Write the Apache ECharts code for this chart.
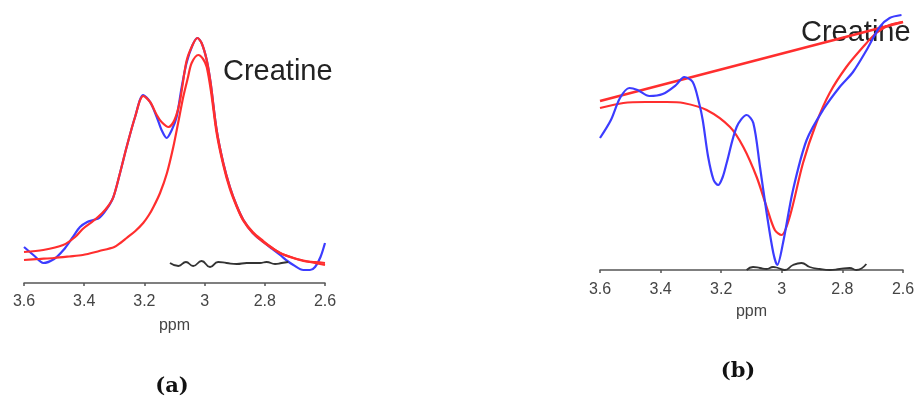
<!DOCTYPE html>
<html>
<head>
<meta charset="utf-8">
<script src="https://cdn.jsdelivr.net/npm/echarts@6/dist/echarts.min.js"></script>
<style>
  html, body { margin: 0; padding: 0; background: #ffffff; }
  #chart { width: 919px; height: 401px; }
</style>
</head>
<body>
<div id="chart"></div>
<script>
// Chemical shift ticks (ppm), shared by both spectra
const ppmTicks = [3.6, 3.4, 3.2, 3.0, 2.8, 2.6];

// (a) measured spectrum, [ppm, intensity a.u.]
const specA = [
  [3.600, 0.36], [3.565, 0.27], [3.536, 0.20], [3.500, 0.24], [3.469, 0.33],
  [3.440, 0.45], [3.414, 0.56], [3.390, 0.61], [3.370, 0.63], [3.350, 0.65],
  [3.325, 0.74], [3.303, 0.86], [3.281, 1.10], [3.259, 1.36], [3.231, 1.66],
  [3.204, 1.88], [3.181, 1.81], [3.159, 1.66], [3.143, 1.53], [3.126, 1.45],
  [3.109, 1.53], [3.093, 1.66], [3.076, 1.96], [3.060, 2.20], [3.040, 2.38],
  [3.024, 2.45], [3.010, 2.40], [2.993, 2.23], [2.980, 2.00], [2.960, 1.53],
  [2.938, 1.20], [2.916, 0.96], [2.893, 0.77], [2.871, 0.63], [2.840, 0.50],
  [2.805, 0.41], [2.775, 0.34], [2.749, 0.28], [2.725, 0.22], [2.705, 0.18],
  [2.672, 0.13], [2.650, 0.13], [2.633, 0.16], [2.615, 0.26], [2.600, 0.40]
];
// (a) total fit
const fitA = [
  [3.600, 0.31], [3.536, 0.33], [3.470, 0.38], [3.430, 0.46], [3.405, 0.54],
  [3.370, 0.62], [3.340, 0.70], [3.320, 0.77], [3.303, 0.86], [3.281, 1.10],
  [3.259, 1.36], [3.231, 1.66], [3.204, 1.87], [3.181, 1.81], [3.159, 1.68],
  [3.143, 1.61], [3.120, 1.56], [3.100, 1.63], [3.082, 1.82], [3.060, 2.22],
  [3.040, 2.38], [3.024, 2.45], [3.010, 2.40], [2.993, 2.23], [2.980, 2.00],
  [2.960, 1.53], [2.938, 1.20], [2.916, 0.96], [2.893, 0.77], [2.871, 0.63],
  [2.840, 0.51], [2.805, 0.42], [2.775, 0.35], [2.749, 0.30], [2.705, 0.25],
  [2.672, 0.22], [2.633, 0.21], [2.600, 0.20]
];
// (a) creatine component
const creA = [
  [3.600, 0.23], [3.550, 0.24], [3.500, 0.25], [3.450, 0.265], [3.405, 0.28],
  [3.350, 0.32], [3.300, 0.36], [3.280, 0.40], [3.259, 0.45], [3.230, 0.52],
  [3.204, 0.60], [3.185, 0.68], [3.170, 0.76], [3.148, 0.90], [3.125, 1.10],
  [3.104, 1.36], [3.088, 1.60], [3.071, 1.86], [3.055, 2.06], [3.043, 2.20],
  [3.021, 2.28], [3.005, 2.24], [2.993, 2.16], [2.978, 1.90], [2.960, 1.50],
  [2.938, 1.18], [2.916, 0.94], [2.893, 0.76], [2.871, 0.62], [2.840, 0.50],
  [2.805, 0.41], [2.749, 0.30], [2.705, 0.25], [2.650, 0.21], [2.600, 0.18]
];
// (a) residual
const resA = [
  [3.115, 0.20], [3.087, 0.17], [3.062, 0.21], [3.038, 0.17], [3.010, 0.22],
  [2.982, 0.16], [2.955, 0.21], [2.927, 0.20], [2.893, 0.19], [2.860, 0.20],
  [2.816, 0.20], [2.794, 0.21], [2.766, 0.19], [2.744, 0.20], [2.722, 0.21]
];

// (b) measured spectrum
const specB = [
  [3.600, 1.32], [3.564, 1.50], [3.534, 1.72], [3.503, 1.82], [3.476, 1.80],
  [3.437, 1.74], [3.393, 1.76], [3.349, 1.85], [3.322, 1.93], [3.294, 1.88],
  [3.273, 1.67], [3.261, 1.50], [3.243, 1.13], [3.225, 0.90], [3.210, 0.85],
  [3.195, 0.93], [3.182, 1.07], [3.149, 1.43], [3.116, 1.55], [3.094, 1.47],
  [3.072, 1.03], [3.050, 0.57], [3.028, 0.17], [3.015, 0.05], [2.996, 0.27],
  [2.963, 0.80], [2.918, 1.30], [2.864, 1.60], [2.809, 1.83], [2.765, 1.98],
  [2.720, 2.20], [2.677, 2.43], [2.644, 2.52], [2.605, 2.55]
];
// (b) fitted baseline
const baseB = [[3.600, 1.69], [2.600, 2.48]];
// (b) creatine fit
const creB = [
  [3.600, 1.62], [3.523, 1.67], [3.450, 1.68], [3.380, 1.68], [3.325, 1.67],
  [3.248, 1.60], [3.171, 1.43], [3.127, 1.23], [3.083, 0.93], [3.050, 0.63],
  [3.023, 0.40], [3.001, 0.35], [2.974, 0.53], [2.930, 1.07], [2.886, 1.47],
  [2.842, 1.77], [2.787, 2.03], [2.732, 2.23], [2.688, 2.37], [2.644, 2.45],
  [2.600, 2.48]
];
// (b) residual
const resB = [
  [3.116, 0.00], [3.095, 0.03], [3.072, 0.02], [3.050, 0.01], [3.029, 0.03],
  [3.012, 0.02], [2.990, 0.00], [2.963, 0.05], [2.935, 0.07], [2.908, 0.03],
  [2.875, 0.01], [2.842, 0.00], [2.809, 0.01], [2.776, 0.02], [2.754, 0.00],
  [2.721, 0.06]
];

const BLUE = '#3c3cff';
const RED = '#ff2e2e';
const DARK = '#333333';
const AXIS = '#555555';
const SANS = '"Liberation Sans", Arial, sans-serif';
const SERIF = '"DejaVu Serif", serif';

function ppmAxis(gridIndex, margin, nameGap) {
  return {
    gridIndex,
    type: 'value',
    inverse: true,
    min: ppmTicks[ppmTicks.length - 1],
    max: ppmTicks[0],
    interval: 0.2,
    name: 'ppm',
    nameLocation: 'middle',
    nameGap,
    nameTextStyle: { fontFamily: SANS, fontSize: 16, color: '#444' },
    axisLine: { show: true, onZero: false, lineStyle: { color: AXIS, width: 1.5 } },
    axisTick: { show: true, length: 3, lineStyle: { color: AXIS, width: 1.5 } },
    axisLabel: {
      margin,
      fontFamily: SANS, fontSize: 16, color: '#444',
      formatter: v => String(Number(v.toFixed(1)))
    },
    splitLine: { show: false }
  };
}

function curve(name, data, color, width, xi, extra) {
  return Object.assign({
    name, type: 'line', data,
    xAxisIndex: xi, yAxisIndex: xi,
    smooth: 0.3,
    showSymbol: false, symbol: 'none',
    lineStyle: { color, width }, silent: true, animation: false
  }, extra || {});
}

const chart = echarts.init(document.getElementById('chart'), null, { renderer: 'canvas' });
chart.setOption({
  backgroundColor: '#ffffff',
  animation: false,
  grid: [
    { left: 24, right: 594, top: 20, bottom: 118 },
    { left: 600, right: 16, top: 10, bottom: 131 }
  ],
  xAxis: [ppmAxis(0, 11, 35), ppmAxis(1, 12, 34)],
  yAxis: [
    { gridIndex: 0, type: 'value', min: 0, max: 2.63, show: false },
    { gridIndex: 1, type: 'value', min: 0, max: 2.6, show: false }
  ],
  graphic: [
    { type: 'text', x: 223, y: 57, z: 0,
      style: { text: 'Creatine', fontFamily: SANS, fontSize: 29, fill: '#222' } },
    { type: 'text', x: 801, y: 18, z: 0,
      style: { text: 'Creatine', fontFamily: SANS, fontSize: 29, fill: '#222' } },
    { type: 'text', x: 172, y: 376, z: 0,
      style: { text: '(a)', fontFamily: SERIF, fontWeight: 'bold', fontSize: 21, fill: '#111', align: 'center' } },
    { type: 'text', x: 738, y: 361, z: 0,
      style: { text: '(b)', fontFamily: SERIF, fontWeight: 'bold', fontSize: 21, fill: '#111', align: 'center' } }
  ],
  series: [
    curve('spectrum a', specA, BLUE, 2.2, 0),
    curve('fit a', fitA, RED, 2.2, 0),
    curve('creatine a', creA, RED, 2.2, 0),
    curve('residual a', resA, DARK, 1.8, 0, { smooth: 0.5 }),
    curve('baseline b', baseB, RED, 2.6, 1, { smooth: false }),
    curve('creatine b', creB, RED, 2.2, 1),
    curve('spectrum b', specB, BLUE, 2.2, 1),
    curve('residual b', resB, DARK, 1.8, 1, { smooth: 0.5 })
  ]
});
</script>
</body>
</html>
